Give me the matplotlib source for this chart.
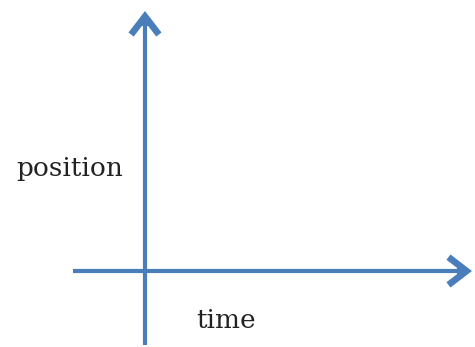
import matplotlib
matplotlib.use("Agg")
import matplotlib.pyplot as plt

# ---------- labels ----------
X_LABEL = "time"
Y_LABEL = "position"

BLUE = "#4a7ebb"
W, H = 475, 347

fig = plt.figure(figsize=(W / 100, H / 100), dpi=100)
ax = fig.add_axes([0, 0, 1, 1])
ax.set_xlim(0, W)
ax.set_ylim(H, 0)
ax.axis("off")

# shafts
ax.plot([145, 145], [345, 14], color=BLUE, lw=3.0, solid_capstyle="butt")
ax.plot([73, 469], [271, 271], color=BLUE, lw=3.0, solid_capstyle="butt")

# heads: thicker chevrons on a short stub
head = dict(arrowstyle="->,head_length=1.3,head_width=1.0",
            color=BLUE, lw=4.8, shrinkA=0, shrinkB=0,
            joinstyle="miter", capstyle="butt")
ax.annotate("", xy=(145, 11), xytext=(145, 26), arrowprops=head)
ax.annotate("", xy=(472, 271), xytext=(457, 271), arrowprops=head)

ax.text(70, 168, Y_LABEL, fontsize=19, family="DejaVu Serif",
        ha="center", va="center", color="#222222")
ax.text(226, 320, X_LABEL, fontsize=19, family="DejaVu Serif",
        ha="center", va="center", color="#222222")

fig.savefig("out.png", dpi=100)
